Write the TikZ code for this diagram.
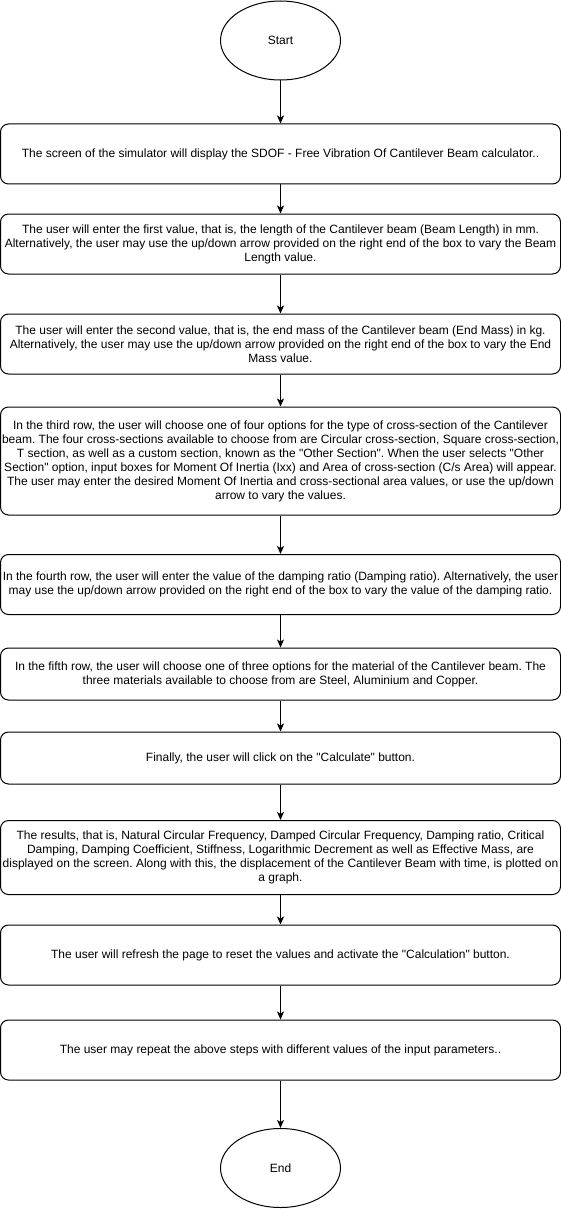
\documentclass[tikz,border=0pt]{standalone}
\usepackage{fontspec}
\newfontfamily\drawfont{Liberation Sans}
\usetikzlibrary{arrows.meta,shapes.geometric}
\frenchspacing
\begin{document}
\begin{tikzpicture}[x=1pt,y=-1pt,
  every node/.style={font=\drawfont\fontsize{12pt}{14pt}\selectfont, text=black},
  stepbox/.style={draw, line width=1pt, rectangle, rounded corners=8pt,
    minimum width=560pt, inner sep=0pt, align=center},
  term/.style={draw, line width=1pt, ellipse, minimum width=120pt, minimum height=79pt, inner sep=0pt},
  flow/.style={draw, line width=1pt, -{Stealth[length=8pt,width=7pt,inset=2pt]}}
]
\useasboundingbox (0,0) rectangle (561,1209);
\node[term] (start) at (280.5,40.5) {Start};
\node[stepbox, minimum height=60pt] (b1) at (280.5,154) {The screen of the simulator will display the SDOF - Free Vibration Of Cantilever Beam calculator..};
\node[stepbox, minimum height=60pt] (b2) at (280.5,244) {The user will enter the first value, that is, the length of the Cantilever beam (Beam Length) in mm.\\ Alternatively, the user may use the up/down arrow provided on the right end of the box to vary the Beam\\ Length value.};
\node[stepbox, minimum height=60pt] (b3) at (280.5,344) {The user will enter the second value, that is, the end mass of the Cantilever beam (End Mass) in kg.\\ Alternatively, the user may use the up/down arrow provided on the right end of the box to vary the End\\ Mass value.};
\node[stepbox, minimum height=108pt] (b4) at (280.5,461) {In the third row, the user will choose one of four options for the type of cross-section of the Cantilever\\ beam. The four cross-sections available to choose from are Circular cross-section, Square cross-section,\\ T section, as well as a custom section, known as the "Other Section". When the user selects "Other\\ Section" option, input boxes for Moment Of Inertia (Ixx) and Area of cross-section (C/s Area) will appear.\\ The user may enter the desired Moment Of Inertia and cross-sectional area values, or use the up/down\\ arrow to vary the values.};
\node[stepbox, minimum height=60pt] (b5) at (280.5,584.5) {In the fourth row, the user will enter the value of the damping ratio (Damping ratio). Alternatively, the user\\ may use the up/down arrow provided on the right end of the box to vary the value of the damping ratio.};
\node[stepbox, minimum height=52pt] (b6) at (280.5,674) {In the fifth row, the user will choose one of three options for the material of the Cantilever beam. The\\ three materials available to choose from are Steel, Aluminium and Copper.};
\node[stepbox, minimum height=52pt] (b7) at (280.5,758) {Finally, the user will click on the "Calculate" button.};
\node[stepbox, minimum height=74pt] (b8) at (280.5,857.5) {The results, that is, Natural Circular Frequency, Damped Circular Frequency, Damping ratio, Critical\\ Damping, Damping Coefficient, Stiffness, Logarithmic Decrement as well as Effective Mass, are\\ displayed on the screen. Along with this, the displacement of the Cantilever Beam with time, is plotted on\\ a graph.};
\node[stepbox, minimum height=60pt] (b9) at (280.5,955) {The user will refresh the page to reset the values and activate the "Calculation" button.};
\node[stepbox, minimum height=60pt] (b10) at (280.5,1050) {The user may repeat the above steps with different values of the input parameters..};
\node[term] (end) at (280.5,1168) {End};
\draw[flow] (start) -- (b1);
\draw[flow] (b1) -- (b2);
\draw[flow] (b2) -- (b3);
\draw[flow] (b3) -- (b4);
\draw[flow] (b4) -- (b5);
\draw[flow] (b5) -- (b6);
\draw[flow] (b6) -- (b7);
\draw[flow] (b7) -- (b8);
\draw[flow] (b8) -- (b9);
\draw[flow] (b9) -- (b10);
\draw[flow] (b10) -- (end);
\end{tikzpicture}
\end{document}
